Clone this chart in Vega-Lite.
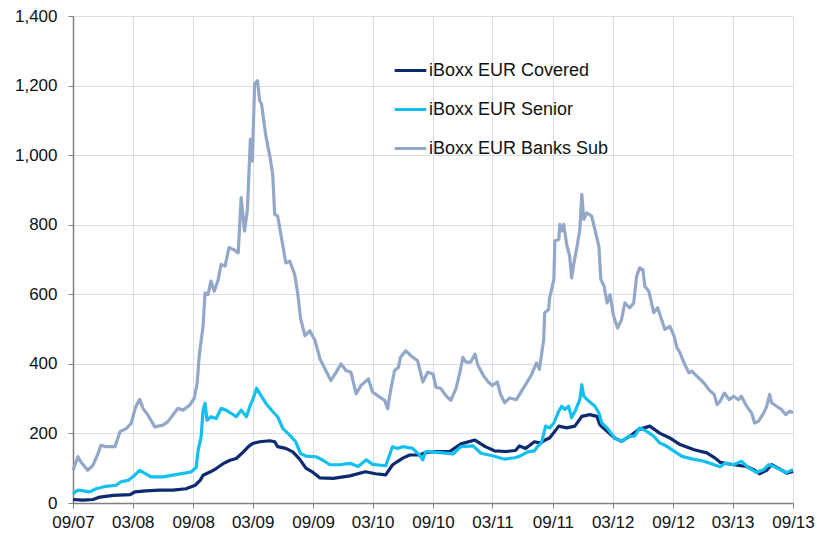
{
  "$schema": "https://vega.github.io/schema/vega-lite/v6.json",
  "width": 720,
  "height": 487,
  "autosize": {"type": "none"},
  "padding": {"left": 73, "top": 16, "right": 24, "bottom": 32},
  "background": "white",
  "config": {
    "view": {"stroke": null},
    "font": "Liberation Sans",
    "axis": {
      "labelFont": "Liberation Sans",
      "labelFontSize": 17,
      "labelColor": "#111111",
      "domainColor": "#808080",
      "tickColor": "#808080",
      "tickSize": 5,
      "gridColor": "#d9dee9",
      "gridWidth": 1,
      "title": null
    }
  },
  "data": {
    "values": [
      {"d":"2007-09-01","s":"iBoxx EUR Covered","v":10},
      {"d":"2007-10-01","s":"iBoxx EUR Covered","v":8},
      {"d":"2007-11-01","s":"iBoxx EUR Covered","v":10},
      {"d":"2007-11-22","s":"iBoxx EUR Covered","v":17},
      {"d":"2008-01-01","s":"iBoxx EUR Covered","v":22},
      {"d":"2008-02-22","s":"iBoxx EUR Covered","v":24},
      {"d":"2008-03-07","s":"iBoxx EUR Covered","v":32},
      {"d":"2008-04-10","s":"iBoxx EUR Covered","v":35},
      {"d":"2008-05-22","s":"iBoxx EUR Covered","v":37},
      {"d":"2008-07-01","s":"iBoxx EUR Covered","v":37},
      {"d":"2008-08-10","s":"iBoxx EUR Covered","v":41},
      {"d":"2008-09-07","s":"iBoxx EUR Covered","v":51},
      {"d":"2008-09-22","s":"iBoxx EUR Covered","v":65},
      {"d":"2008-10-01","s":"iBoxx EUR Covered","v":80},
      {"d":"2008-10-22","s":"iBoxx EUR Covered","v":89},
      {"d":"2008-11-10","s":"iBoxx EUR Covered","v":99},
      {"d":"2008-12-01","s":"iBoxx EUR Covered","v":113},
      {"d":"2008-12-22","s":"iBoxx EUR Covered","v":123},
      {"d":"2009-01-10","s":"iBoxx EUR Covered","v":128},
      {"d":"2009-02-01","s":"iBoxx EUR Covered","v":147},
      {"d":"2009-02-16","s":"iBoxx EUR Covered","v":162},
      {"d":"2009-03-01","s":"iBoxx EUR Covered","v":171},
      {"d":"2009-03-22","s":"iBoxx EUR Covered","v":176},
      {"d":"2009-04-22","s":"iBoxx EUR Covered","v":179},
      {"d":"2009-05-07","s":"iBoxx EUR Covered","v":176},
      {"d":"2009-05-16","s":"iBoxx EUR Covered","v":162},
      {"d":"2009-06-10","s":"iBoxx EUR Covered","v":157},
      {"d":"2009-07-01","s":"iBoxx EUR Covered","v":147},
      {"d":"2009-07-22","s":"iBoxx EUR Covered","v":126},
      {"d":"2009-08-10","s":"iBoxx EUR Covered","v":100},
      {"d":"2009-09-01","s":"iBoxx EUR Covered","v":88},
      {"d":"2009-09-22","s":"iBoxx EUR Covered","v":72},
      {"d":"2009-11-01","s":"iBoxx EUR Covered","v":71},
      {"d":"2009-12-22","s":"iBoxx EUR Covered","v":78},
      {"d":"2010-02-07","s":"iBoxx EUR Covered","v":90},
      {"d":"2010-03-10","s":"iBoxx EUR Covered","v":84},
      {"d":"2010-04-10","s":"iBoxx EUR Covered","v":81},
      {"d":"2010-05-01","s":"iBoxx EUR Covered","v":110},
      {"d":"2010-06-01","s":"iBoxx EUR Covered","v":129},
      {"d":"2010-06-22","s":"iBoxx EUR Covered","v":138},
      {"d":"2010-07-22","s":"iBoxx EUR Covered","v":138},
      {"d":"2010-08-10","s":"iBoxx EUR Covered","v":145},
      {"d":"2010-09-10","s":"iBoxx EUR Covered","v":148},
      {"d":"2010-10-22","s":"iBoxx EUR Covered","v":148},
      {"d":"2010-11-25","s":"iBoxx EUR Covered","v":170},
      {"d":"2011-01-07","s":"iBoxx EUR Covered","v":181},
      {"d":"2011-02-07","s":"iBoxx EUR Covered","v":162},
      {"d":"2011-03-07","s":"iBoxx EUR Covered","v":150},
      {"d":"2011-04-10","s":"iBoxx EUR Covered","v":148},
      {"d":"2011-05-10","s":"iBoxx EUR Covered","v":151},
      {"d":"2011-05-22","s":"iBoxx EUR Covered","v":164},
      {"d":"2011-06-10","s":"iBoxx EUR Covered","v":157},
      {"d":"2011-07-07","s":"iBoxx EUR Covered","v":176},
      {"d":"2011-07-25","s":"iBoxx EUR Covered","v":172},
      {"d":"2011-08-10","s":"iBoxx EUR Covered","v":182},
      {"d":"2011-08-22","s":"iBoxx EUR Covered","v":187},
      {"d":"2011-09-19","s":"iBoxx EUR Covered","v":221},
      {"d":"2011-10-13","s":"iBoxx EUR Covered","v":216},
      {"d":"2011-11-07","s":"iBoxx EUR Covered","v":221},
      {"d":"2011-11-28","s":"iBoxx EUR Covered","v":249},
      {"d":"2011-12-22","s":"iBoxx EUR Covered","v":254},
      {"d":"2012-01-13","s":"iBoxx EUR Covered","v":249},
      {"d":"2012-01-22","s":"iBoxx EUR Covered","v":225},
      {"d":"2012-02-13","s":"iBoxx EUR Covered","v":206},
      {"d":"2012-03-07","s":"iBoxx EUR Covered","v":187},
      {"d":"2012-03-28","s":"iBoxx EUR Covered","v":177},
      {"d":"2012-04-22","s":"iBoxx EUR Covered","v":192},
      {"d":"2012-05-19","s":"iBoxx EUR Covered","v":211},
      {"d":"2012-06-22","s":"iBoxx EUR Covered","v":221},
      {"d":"2012-07-22","s":"iBoxx EUR Covered","v":201},
      {"d":"2012-08-22","s":"iBoxx EUR Covered","v":187},
      {"d":"2012-09-22","s":"iBoxx EUR Covered","v":168},
      {"d":"2012-11-04","s":"iBoxx EUR Covered","v":153},
      {"d":"2012-12-13","s":"iBoxx EUR Covered","v":144},
      {"d":"2013-01-07","s":"iBoxx EUR Covered","v":129},
      {"d":"2013-01-22","s":"iBoxx EUR Covered","v":117},
      {"d":"2013-03-04","s":"iBoxx EUR Covered","v":110},
      {"d":"2013-04-13","s":"iBoxx EUR Covered","v":105},
      {"d":"2013-05-04","s":"iBoxx EUR Covered","v":96},
      {"d":"2013-05-22","s":"iBoxx EUR Covered","v":84},
      {"d":"2013-06-13","s":"iBoxx EUR Covered","v":94},
      {"d":"2013-06-28","s":"iBoxx EUR Covered","v":110},
      {"d":"2013-07-22","s":"iBoxx EUR Covered","v":98},
      {"d":"2013-08-13","s":"iBoxx EUR Covered","v":86},
      {"d":"2013-09-01","s":"iBoxx EUR Covered","v":91},

      {"d":"2007-09-01","s":"iBoxx EUR Senior","v":27},
      {"d":"2007-09-16","s":"iBoxx EUR Senior","v":37},
      {"d":"2007-10-22","s":"iBoxx EUR Senior","v":32},
      {"d":"2007-11-10","s":"iBoxx EUR Senior","v":41},
      {"d":"2007-12-10","s":"iBoxx EUR Senior","v":48},
      {"d":"2008-01-10","s":"iBoxx EUR Senior","v":51},
      {"d":"2008-01-25","s":"iBoxx EUR Senior","v":61},
      {"d":"2008-02-16","s":"iBoxx EUR Senior","v":65},
      {"d":"2008-03-07","s":"iBoxx EUR Senior","v":80},
      {"d":"2008-03-22","s":"iBoxx EUR Senior","v":94},
      {"d":"2008-04-07","s":"iBoxx EUR Senior","v":85},
      {"d":"2008-04-25","s":"iBoxx EUR Senior","v":75},
      {"d":"2008-06-01","s":"iBoxx EUR Senior","v":75},
      {"d":"2008-07-01","s":"iBoxx EUR Senior","v":80},
      {"d":"2008-08-01","s":"iBoxx EUR Senior","v":85},
      {"d":"2008-08-25","s":"iBoxx EUR Senior","v":89},
      {"d":"2008-09-10","s":"iBoxx EUR Senior","v":102},
      {"d":"2008-09-16","s":"iBoxx EUR Senior","v":152},
      {"d":"2008-09-25","s":"iBoxx EUR Senior","v":190},
      {"d":"2008-10-01","s":"iBoxx EUR Senior","v":267},
      {"d":"2008-10-07","s":"iBoxx EUR Senior","v":287},
      {"d":"2008-10-13","s":"iBoxx EUR Senior","v":238},
      {"d":"2008-10-25","s":"iBoxx EUR Senior","v":248},
      {"d":"2008-11-10","s":"iBoxx EUR Senior","v":243},
      {"d":"2008-11-25","s":"iBoxx EUR Senior","v":272},
      {"d":"2008-12-10","s":"iBoxx EUR Senior","v":267},
      {"d":"2008-12-25","s":"iBoxx EUR Senior","v":258},
      {"d":"2009-01-10","s":"iBoxx EUR Senior","v":248},
      {"d":"2009-01-25","s":"iBoxx EUR Senior","v":267},
      {"d":"2009-02-10","s":"iBoxx EUR Senior","v":248},
      {"d":"2009-02-22","s":"iBoxx EUR Senior","v":282},
      {"d":"2009-03-01","s":"iBoxx EUR Senior","v":296},
      {"d":"2009-03-13","s":"iBoxx EUR Senior","v":330},
      {"d":"2009-03-25","s":"iBoxx EUR Senior","v":311},
      {"d":"2009-04-10","s":"iBoxx EUR Senior","v":287},
      {"d":"2009-05-01","s":"iBoxx EUR Senior","v":263},
      {"d":"2009-05-16","s":"iBoxx EUR Senior","v":248},
      {"d":"2009-06-01","s":"iBoxx EUR Senior","v":214},
      {"d":"2009-06-22","s":"iBoxx EUR Senior","v":195},
      {"d":"2009-07-10","s":"iBoxx EUR Senior","v":176},
      {"d":"2009-07-25","s":"iBoxx EUR Senior","v":142},
      {"d":"2009-08-10","s":"iBoxx EUR Senior","v":135},
      {"d":"2009-09-10","s":"iBoxx EUR Senior","v":133},
      {"d":"2009-10-01","s":"iBoxx EUR Senior","v":123},
      {"d":"2009-10-22","s":"iBoxx EUR Senior","v":110},
      {"d":"2009-11-22","s":"iBoxx EUR Senior","v":110},
      {"d":"2009-12-22","s":"iBoxx EUR Senior","v":114},
      {"d":"2010-01-16","s":"iBoxx EUR Senior","v":105},
      {"d":"2010-02-10","s":"iBoxx EUR Senior","v":124},
      {"d":"2010-03-01","s":"iBoxx EUR Senior","v":111},
      {"d":"2010-04-10","s":"iBoxx EUR Senior","v":107},
      {"d":"2010-05-01","s":"iBoxx EUR Senior","v":162},
      {"d":"2010-05-16","s":"iBoxx EUR Senior","v":157},
      {"d":"2010-06-01","s":"iBoxx EUR Senior","v":162},
      {"d":"2010-07-01","s":"iBoxx EUR Senior","v":157},
      {"d":"2010-07-22","s":"iBoxx EUR Senior","v":138},
      {"d":"2010-08-01","s":"iBoxx EUR Senior","v":124},
      {"d":"2010-08-10","s":"iBoxx EUR Senior","v":148},
      {"d":"2010-09-22","s":"iBoxx EUR Senior","v":145},
      {"d":"2010-11-01","s":"iBoxx EUR Senior","v":141},
      {"d":"2010-11-25","s":"iBoxx EUR Senior","v":162},
      {"d":"2011-01-01","s":"iBoxx EUR Senior","v":164},
      {"d":"2011-01-25","s":"iBoxx EUR Senior","v":143},
      {"d":"2011-03-01","s":"iBoxx EUR Senior","v":136},
      {"d":"2011-04-07","s":"iBoxx EUR Senior","v":126},
      {"d":"2011-05-07","s":"iBoxx EUR Senior","v":130},
      {"d":"2011-05-22","s":"iBoxx EUR Senior","v":134},
      {"d":"2011-06-16","s":"iBoxx EUR Senior","v":147},
      {"d":"2011-07-07","s":"iBoxx EUR Senior","v":150},
      {"d":"2011-07-16","s":"iBoxx EUR Senior","v":162},
      {"d":"2011-07-28","s":"iBoxx EUR Senior","v":173},
      {"d":"2011-08-10","s":"iBoxx EUR Senior","v":221},
      {"d":"2011-08-22","s":"iBoxx EUR Senior","v":216},
      {"d":"2011-09-04","s":"iBoxx EUR Senior","v":230},
      {"d":"2011-09-19","s":"iBoxx EUR Senior","v":264},
      {"d":"2011-09-28","s":"iBoxx EUR Senior","v":278},
      {"d":"2011-10-07","s":"iBoxx EUR Senior","v":269},
      {"d":"2011-10-19","s":"iBoxx EUR Senior","v":278},
      {"d":"2011-10-28","s":"iBoxx EUR Senior","v":245},
      {"d":"2011-11-10","s":"iBoxx EUR Senior","v":269},
      {"d":"2011-11-22","s":"iBoxx EUR Senior","v":297},
      {"d":"2011-11-28","s":"iBoxx EUR Senior","v":340},
      {"d":"2011-12-04","s":"iBoxx EUR Senior","v":307},
      {"d":"2011-12-19","s":"iBoxx EUR Senior","v":293},
      {"d":"2012-01-07","s":"iBoxx EUR Senior","v":278},
      {"d":"2012-01-19","s":"iBoxx EUR Senior","v":259},
      {"d":"2012-01-28","s":"iBoxx EUR Senior","v":230},
      {"d":"2012-02-13","s":"iBoxx EUR Senior","v":216},
      {"d":"2012-03-07","s":"iBoxx EUR Senior","v":187},
      {"d":"2012-03-28","s":"iBoxx EUR Senior","v":177},
      {"d":"2012-04-19","s":"iBoxx EUR Senior","v":192},
      {"d":"2012-05-07","s":"iBoxx EUR Senior","v":192},
      {"d":"2012-05-22","s":"iBoxx EUR Senior","v":216},
      {"d":"2012-06-13","s":"iBoxx EUR Senior","v":206},
      {"d":"2012-07-04","s":"iBoxx EUR Senior","v":192},
      {"d":"2012-07-22","s":"iBoxx EUR Senior","v":173},
      {"d":"2012-08-13","s":"iBoxx EUR Senior","v":163},
      {"d":"2012-09-04","s":"iBoxx EUR Senior","v":149},
      {"d":"2012-09-28","s":"iBoxx EUR Senior","v":134},
      {"d":"2012-10-28","s":"iBoxx EUR Senior","v":127},
      {"d":"2012-12-04","s":"iBoxx EUR Senior","v":120},
      {"d":"2013-01-04","s":"iBoxx EUR Senior","v":110},
      {"d":"2013-01-22","s":"iBoxx EUR Senior","v":104},
      {"d":"2013-02-07","s":"iBoxx EUR Senior","v":115},
      {"d":"2013-03-04","s":"iBoxx EUR Senior","v":110},
      {"d":"2013-03-28","s":"iBoxx EUR Senior","v":120},
      {"d":"2013-04-19","s":"iBoxx EUR Senior","v":101},
      {"d":"2013-05-13","s":"iBoxx EUR Senior","v":88},
      {"d":"2013-06-04","s":"iBoxx EUR Senior","v":96},
      {"d":"2013-06-19","s":"iBoxx EUR Senior","v":110},
      {"d":"2013-07-07","s":"iBoxx EUR Senior","v":104},
      {"d":"2013-07-28","s":"iBoxx EUR Senior","v":94},
      {"d":"2013-08-13","s":"iBoxx EUR Senior","v":88},
      {"d":"2013-09-01","s":"iBoxx EUR Senior","v":96},

      {"d":"2007-09-01","s":"iBoxx EUR Banks Sub","v":94},
      {"d":"2007-09-16","s":"iBoxx EUR Banks Sub","v":133},
      {"d":"2007-09-25","s":"iBoxx EUR Banks Sub","v":118},
      {"d":"2007-10-16","s":"iBoxx EUR Banks Sub","v":94},
      {"d":"2007-11-01","s":"iBoxx EUR Banks Sub","v":109},
      {"d":"2007-11-16","s":"iBoxx EUR Banks Sub","v":142},
      {"d":"2007-11-25","s":"iBoxx EUR Banks Sub","v":166},
      {"d":"2007-12-10","s":"iBoxx EUR Banks Sub","v":162},
      {"d":"2008-01-07","s":"iBoxx EUR Banks Sub","v":162},
      {"d":"2008-01-22","s":"iBoxx EUR Banks Sub","v":205},
      {"d":"2008-02-10","s":"iBoxx EUR Banks Sub","v":214},
      {"d":"2008-02-25","s":"iBoxx EUR Banks Sub","v":229},
      {"d":"2008-03-10","s":"iBoxx EUR Banks Sub","v":277},
      {"d":"2008-03-22","s":"iBoxx EUR Banks Sub","v":298},
      {"d":"2008-04-01","s":"iBoxx EUR Banks Sub","v":272},
      {"d":"2008-04-16","s":"iBoxx EUR Banks Sub","v":253},
      {"d":"2008-05-07","s":"iBoxx EUR Banks Sub","v":219},
      {"d":"2008-06-01","s":"iBoxx EUR Banks Sub","v":224},
      {"d":"2008-06-16","s":"iBoxx EUR Banks Sub","v":234},
      {"d":"2008-07-01","s":"iBoxx EUR Banks Sub","v":253},
      {"d":"2008-07-16","s":"iBoxx EUR Banks Sub","v":272},
      {"d":"2008-08-01","s":"iBoxx EUR Banks Sub","v":267},
      {"d":"2008-08-22","s":"iBoxx EUR Banks Sub","v":282},
      {"d":"2008-09-04","s":"iBoxx EUR Banks Sub","v":301},
      {"d":"2008-09-13","s":"iBoxx EUR Banks Sub","v":344},
      {"d":"2008-09-19","s":"iBoxx EUR Banks Sub","v":421},
      {"d":"2008-10-01","s":"iBoxx EUR Banks Sub","v":508},
      {"d":"2008-10-07","s":"iBoxx EUR Banks Sub","v":604},
      {"d":"2008-10-16","s":"iBoxx EUR Banks Sub","v":599},
      {"d":"2008-10-25","s":"iBoxx EUR Banks Sub","v":638},
      {"d":"2008-11-04","s":"iBoxx EUR Banks Sub","v":609},
      {"d":"2008-11-16","s":"iBoxx EUR Banks Sub","v":642},
      {"d":"2008-11-25","s":"iBoxx EUR Banks Sub","v":686},
      {"d":"2008-12-07","s":"iBoxx EUR Banks Sub","v":681},
      {"d":"2008-12-19","s":"iBoxx EUR Banks Sub","v":734},
      {"d":"2009-01-01","s":"iBoxx EUR Banks Sub","v":729},
      {"d":"2009-01-16","s":"iBoxx EUR Banks Sub","v":719},
      {"d":"2009-01-25","s":"iBoxx EUR Banks Sub","v":878},
      {"d":"2009-02-04","s":"iBoxx EUR Banks Sub","v":782},
      {"d":"2009-02-13","s":"iBoxx EUR Banks Sub","v":844},
      {"d":"2009-02-22","s":"iBoxx EUR Banks Sub","v":1046},
      {"d":"2009-02-28","s":"iBoxx EUR Banks Sub","v":983},
      {"d":"2009-03-07","s":"iBoxx EUR Banks Sub","v":1205},
      {"d":"2009-03-16","s":"iBoxx EUR Banks Sub","v":1214},
      {"d":"2009-03-22","s":"iBoxx EUR Banks Sub","v":1157},
      {"d":"2009-03-28","s":"iBoxx EUR Banks Sub","v":1147},
      {"d":"2009-04-10","s":"iBoxx EUR Banks Sub","v":1056},
      {"d":"2009-04-22","s":"iBoxx EUR Banks Sub","v":998},
      {"d":"2009-05-01","s":"iBoxx EUR Banks Sub","v":945},
      {"d":"2009-05-07","s":"iBoxx EUR Banks Sub","v":830},
      {"d":"2009-05-16","s":"iBoxx EUR Banks Sub","v":825},
      {"d":"2009-05-25","s":"iBoxx EUR Banks Sub","v":777},
      {"d":"2009-06-10","s":"iBoxx EUR Banks Sub","v":690},
      {"d":"2009-06-22","s":"iBoxx EUR Banks Sub","v":695},
      {"d":"2009-07-07","s":"iBoxx EUR Banks Sub","v":657},
      {"d":"2009-07-16","s":"iBoxx EUR Banks Sub","v":604},
      {"d":"2009-07-25","s":"iBoxx EUR Banks Sub","v":530},
      {"d":"2009-08-07","s":"iBoxx EUR Banks Sub","v":481},
      {"d":"2009-08-22","s":"iBoxx EUR Banks Sub","v":495},
      {"d":"2009-09-07","s":"iBoxx EUR Banks Sub","v":467},
      {"d":"2009-09-22","s":"iBoxx EUR Banks Sub","v":414},
      {"d":"2009-10-07","s":"iBoxx EUR Banks Sub","v":386},
      {"d":"2009-10-25","s":"iBoxx EUR Banks Sub","v":352},
      {"d":"2009-11-07","s":"iBoxx EUR Banks Sub","v":371},
      {"d":"2009-11-25","s":"iBoxx EUR Banks Sub","v":400},
      {"d":"2009-12-10","s":"iBoxx EUR Banks Sub","v":381},
      {"d":"2009-12-25","s":"iBoxx EUR Banks Sub","v":376},
      {"d":"2010-01-10","s":"iBoxx EUR Banks Sub","v":314},
      {"d":"2010-01-25","s":"iBoxx EUR Banks Sub","v":338},
      {"d":"2010-02-16","s":"iBoxx EUR Banks Sub","v":357},
      {"d":"2010-03-01","s":"iBoxx EUR Banks Sub","v":319},
      {"d":"2010-03-22","s":"iBoxx EUR Banks Sub","v":305},
      {"d":"2010-04-07","s":"iBoxx EUR Banks Sub","v":295},
      {"d":"2010-04-16","s":"iBoxx EUR Banks Sub","v":271},
      {"d":"2010-04-25","s":"iBoxx EUR Banks Sub","v":324},
      {"d":"2010-05-07","s":"iBoxx EUR Banks Sub","v":381},
      {"d":"2010-05-19","s":"iBoxx EUR Banks Sub","v":390},
      {"d":"2010-05-25","s":"iBoxx EUR Banks Sub","v":419},
      {"d":"2010-06-10","s":"iBoxx EUR Banks Sub","v":438},
      {"d":"2010-06-25","s":"iBoxx EUR Banks Sub","v":424},
      {"d":"2010-07-16","s":"iBoxx EUR Banks Sub","v":409},
      {"d":"2010-08-01","s":"iBoxx EUR Banks Sub","v":348},
      {"d":"2010-08-16","s":"iBoxx EUR Banks Sub","v":376},
      {"d":"2010-09-01","s":"iBoxx EUR Banks Sub","v":371},
      {"d":"2010-09-10","s":"iBoxx EUR Banks Sub","v":333},
      {"d":"2010-09-25","s":"iBoxx EUR Banks Sub","v":329},
      {"d":"2010-10-10","s":"iBoxx EUR Banks Sub","v":309},
      {"d":"2010-10-25","s":"iBoxx EUR Banks Sub","v":295},
      {"d":"2010-11-10","s":"iBoxx EUR Banks Sub","v":329},
      {"d":"2010-11-22","s":"iBoxx EUR Banks Sub","v":376},
      {"d":"2010-12-01","s":"iBoxx EUR Banks Sub","v":419},
      {"d":"2010-12-10","s":"iBoxx EUR Banks Sub","v":405},
      {"d":"2010-12-25","s":"iBoxx EUR Banks Sub","v":405},
      {"d":"2011-01-07","s":"iBoxx EUR Banks Sub","v":428},
      {"d":"2011-01-16","s":"iBoxx EUR Banks Sub","v":395},
      {"d":"2011-02-01","s":"iBoxx EUR Banks Sub","v":367},
      {"d":"2011-02-16","s":"iBoxx EUR Banks Sub","v":348},
      {"d":"2011-03-01","s":"iBoxx EUR Banks Sub","v":338},
      {"d":"2011-03-16","s":"iBoxx EUR Banks Sub","v":348},
      {"d":"2011-03-25","s":"iBoxx EUR Banks Sub","v":314},
      {"d":"2011-04-07","s":"iBoxx EUR Banks Sub","v":288},
      {"d":"2011-04-22","s":"iBoxx EUR Banks Sub","v":302},
      {"d":"2011-05-13","s":"iBoxx EUR Banks Sub","v":297},
      {"d":"2011-05-28","s":"iBoxx EUR Banks Sub","v":321},
      {"d":"2011-06-13","s":"iBoxx EUR Banks Sub","v":345},
      {"d":"2011-06-28","s":"iBoxx EUR Banks Sub","v":369},
      {"d":"2011-07-13","s":"iBoxx EUR Banks Sub","v":403},
      {"d":"2011-07-22","s":"iBoxx EUR Banks Sub","v":384},
      {"d":"2011-08-04","s":"iBoxx EUR Banks Sub","v":470},
      {"d":"2011-08-07","s":"iBoxx EUR Banks Sub","v":547},
      {"d":"2011-08-19","s":"iBoxx EUR Banks Sub","v":556},
      {"d":"2011-08-22","s":"iBoxx EUR Banks Sub","v":590},
      {"d":"2011-09-04","s":"iBoxx EUR Banks Sub","v":643},
      {"d":"2011-09-07","s":"iBoxx EUR Banks Sub","v":753},
      {"d":"2011-09-19","s":"iBoxx EUR Banks Sub","v":758},
      {"d":"2011-09-22","s":"iBoxx EUR Banks Sub","v":801},
      {"d":"2011-09-28","s":"iBoxx EUR Banks Sub","v":782},
      {"d":"2011-10-04","s":"iBoxx EUR Banks Sub","v":801},
      {"d":"2011-10-13","s":"iBoxx EUR Banks Sub","v":743},
      {"d":"2011-10-22","s":"iBoxx EUR Banks Sub","v":710},
      {"d":"2011-10-28","s":"iBoxx EUR Banks Sub","v":647},
      {"d":"2011-11-04","s":"iBoxx EUR Banks Sub","v":690},
      {"d":"2011-11-13","s":"iBoxx EUR Banks Sub","v":734},
      {"d":"2011-11-22","s":"iBoxx EUR Banks Sub","v":786},
      {"d":"2011-11-28","s":"iBoxx EUR Banks Sub","v":887},
      {"d":"2011-12-04","s":"iBoxx EUR Banks Sub","v":815},
      {"d":"2011-12-13","s":"iBoxx EUR Banks Sub","v":834},
      {"d":"2011-12-28","s":"iBoxx EUR Banks Sub","v":825},
      {"d":"2012-01-07","s":"iBoxx EUR Banks Sub","v":786},
      {"d":"2012-01-19","s":"iBoxx EUR Banks Sub","v":738},
      {"d":"2012-01-25","s":"iBoxx EUR Banks Sub","v":643},
      {"d":"2012-02-04","s":"iBoxx EUR Banks Sub","v":623},
      {"d":"2012-02-13","s":"iBoxx EUR Banks Sub","v":575},
      {"d":"2012-02-22","s":"iBoxx EUR Banks Sub","v":599},
      {"d":"2012-03-04","s":"iBoxx EUR Banks Sub","v":537},
      {"d":"2012-03-16","s":"iBoxx EUR Banks Sub","v":503},
      {"d":"2012-03-28","s":"iBoxx EUR Banks Sub","v":527},
      {"d":"2012-04-07","s":"iBoxx EUR Banks Sub","v":575},
      {"d":"2012-04-22","s":"iBoxx EUR Banks Sub","v":561},
      {"d":"2012-05-04","s":"iBoxx EUR Banks Sub","v":575},
      {"d":"2012-05-13","s":"iBoxx EUR Banks Sub","v":652},
      {"d":"2012-05-22","s":"iBoxx EUR Banks Sub","v":676},
      {"d":"2012-06-01","s":"iBoxx EUR Banks Sub","v":671},
      {"d":"2012-06-07","s":"iBoxx EUR Banks Sub","v":623},
      {"d":"2012-06-19","s":"iBoxx EUR Banks Sub","v":609},
      {"d":"2012-07-04","s":"iBoxx EUR Banks Sub","v":547},
      {"d":"2012-07-16","s":"iBoxx EUR Banks Sub","v":561},
      {"d":"2012-07-28","s":"iBoxx EUR Banks Sub","v":527},
      {"d":"2012-08-07","s":"iBoxx EUR Banks Sub","v":499},
      {"d":"2012-08-22","s":"iBoxx EUR Banks Sub","v":508},
      {"d":"2012-09-04","s":"iBoxx EUR Banks Sub","v":480},
      {"d":"2012-09-13","s":"iBoxx EUR Banks Sub","v":446},
      {"d":"2012-09-22","s":"iBoxx EUR Banks Sub","v":432},
      {"d":"2012-10-04","s":"iBoxx EUR Banks Sub","v":403},
      {"d":"2012-10-19","s":"iBoxx EUR Banks Sub","v":374},
      {"d":"2012-10-28","s":"iBoxx EUR Banks Sub","v":379},
      {"d":"2012-11-13","s":"iBoxx EUR Banks Sub","v":364},
      {"d":"2012-12-04","s":"iBoxx EUR Banks Sub","v":345},
      {"d":"2012-12-19","s":"iBoxx EUR Banks Sub","v":326},
      {"d":"2013-01-04","s":"iBoxx EUR Banks Sub","v":312},
      {"d":"2013-01-13","s":"iBoxx EUR Banks Sub","v":283},
      {"d":"2013-01-22","s":"iBoxx EUR Banks Sub","v":292},
      {"d":"2013-02-04","s":"iBoxx EUR Banks Sub","v":316},
      {"d":"2013-02-19","s":"iBoxx EUR Banks Sub","v":297},
      {"d":"2013-03-04","s":"iBoxx EUR Banks Sub","v":307},
      {"d":"2013-03-19","s":"iBoxx EUR Banks Sub","v":297},
      {"d":"2013-03-28","s":"iBoxx EUR Banks Sub","v":307},
      {"d":"2013-04-13","s":"iBoxx EUR Banks Sub","v":278},
      {"d":"2013-04-28","s":"iBoxx EUR Banks Sub","v":259},
      {"d":"2013-05-07","s":"iBoxx EUR Banks Sub","v":230},
      {"d":"2013-05-19","s":"iBoxx EUR Banks Sub","v":235},
      {"d":"2013-06-04","s":"iBoxx EUR Banks Sub","v":259},
      {"d":"2013-06-13","s":"iBoxx EUR Banks Sub","v":278},
      {"d":"2013-06-22","s":"iBoxx EUR Banks Sub","v":312},
      {"d":"2013-06-28","s":"iBoxx EUR Banks Sub","v":288},
      {"d":"2013-07-13","s":"iBoxx EUR Banks Sub","v":278},
      {"d":"2013-07-28","s":"iBoxx EUR Banks Sub","v":269},
      {"d":"2013-08-10","s":"iBoxx EUR Banks Sub","v":254},
      {"d":"2013-08-22","s":"iBoxx EUR Banks Sub","v":264},
      {"d":"2013-09-01","s":"iBoxx EUR Banks Sub","v":259}
    ]
  },
  "mark": {"type": "line", "strokeWidth": 3.2, "strokeJoin": "round", "interpolate": "linear"},
  "encoding": {
    "x": {
      "field": "d",
      "type": "temporal",
      "scale": {"type": "utc", "domain": [{"year": 2007, "month": 9, "date": 1, "utc": true}, {"year": 2013, "month": 9, "date": 1, "utc": true}], "nice": false},
      "axis": {
        "values": [
          {"year": 2007, "month": 9, "date": 1, "utc": true},
          {"year": 2008, "month": 3, "date": 1, "utc": true},
          {"year": 2008, "month": 9, "date": 1, "utc": true},
          {"year": 2009, "month": 3, "date": 1, "utc": true},
          {"year": 2009, "month": 9, "date": 1, "utc": true},
          {"year": 2010, "month": 3, "date": 1, "utc": true},
          {"year": 2010, "month": 9, "date": 1, "utc": true},
          {"year": 2011, "month": 3, "date": 1, "utc": true},
          {"year": 2011, "month": 9, "date": 1, "utc": true},
          {"year": 2012, "month": 3, "date": 1, "utc": true},
          {"year": 2012, "month": 9, "date": 1, "utc": true},
          {"year": 2013, "month": 3, "date": 1, "utc": true},
          {"year": 2013, "month": 9, "date": 1, "utc": true}
        ],
        "labelExpr": "utcFormat(datum.value, '%m/%y')",
        "labelPadding": 6,
        "labelOverlap": false,
        "labelFlush": false,
        "domainWidth": 1.5
      }
    },
    "y": {
      "field": "v",
      "type": "quantitative",
      "scale": {"domain": [0, 1400], "nice": false},
      "axis": {
        "values": [0, 200, 400, 600, 800, 1000, 1200, 1400],
        "labelExpr": "format(datum.value, ',d')",
        "labelPadding": 11,
        "domainWidth": 1.5
      }
    },
    "color": {
      "field": "s",
      "type": "nominal",
      "sort": ["iBoxx EUR Covered", "iBoxx EUR Senior", "iBoxx EUR Banks Sub"],
      "scale": {
        "domain": ["iBoxx EUR Covered", "iBoxx EUR Senior", "iBoxx EUR Banks Sub"],
        "range": ["#0b2a6f", "#12c0f0", "#93a8c8"]
      },
      "legend": {
        "title": null,
        "orient": "none",
        "legendX": 320,
        "legendY": 37,
        "symbolType": "stroke",
        "symbolSize": 1000,
        "symbolStrokeWidth": 3.2,
        "labelFontSize": 18,
        "labelFont": "Liberation Sans",
        "labelColor": "#111111",
        "labelOffset": 1,
        "labelLimit": 0,
        "rowPadding": 12
      }
    }
  }
}
